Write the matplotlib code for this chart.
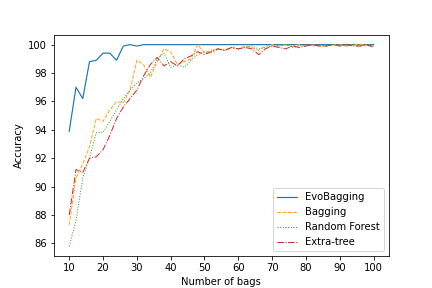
import matplotlib
matplotlib.use("Agg")
import matplotlib.pyplot as plt
import numpy as np

bags = np.arange(10, 101, 2)

evobagging = [93.9, 97.0, 96.2, 98.8, 98.9, 99.4, 99.4, 98.9, 99.9, 100.0,
              99.9, 100.0] + [100.0] * 34

bagging = [87.3, 90.6, 91.6, 92.8, 94.8, 94.6, 95.4, 96.0, 95.9, 96.8,
           98.9, 98.6, 97.7, 98.8, 99.7, 99.5, 98.6, 98.8, 99.0, 100.0,
           99.4, 99.6, 99.7, 99.6, 99.8, 99.7, 99.9, 99.8, 99.6, 99.9,
           100.0, 99.9, 100.0, 99.9, 100.0, 99.9, 100.0, 99.9, 99.9, 100.0,
           100.0, 99.9, 100.0, 100.0, 100.0, 99.9]

random_forest = [85.8, 87.6, 90.6, 92.0, 93.8, 93.8, 94.6, 95.4, 96.2, 96.8,
                 97.3, 97.6, 98.0, 99.0, 99.4, 98.4, 98.6, 98.4, 98.9, 99.3,
                 99.5, 99.4, 99.7, 99.6, 99.8, 99.7, 99.8, 99.9, 99.7, 99.8,
                 99.9, 99.9, 100.0, 99.8, 99.9, 100.0, 99.9, 100.0, 99.9, 100.0,
                 100.0, 99.9, 100.0, 99.9, 100.0, 99.9]

extra_tree = [88.0, 91.2, 91.0, 92.0, 92.1, 92.6, 93.6, 94.8, 95.6, 96.2,
              96.8, 97.8, 98.6, 99.1, 98.5, 98.8, 98.5, 99.0, 99.2, 99.5,
              99.3, 99.5, 99.7, 99.6, 99.8, 99.7, 99.8, 99.7, 99.3, 99.7,
              99.9, 99.8, 99.7, 99.9, 99.8, 99.9, 100.0, 99.9, 99.9, 100.0,
              99.9, 100.0, 99.9, 99.9, 100.0, 99.8]

fig, ax = plt.subplots(figsize=(6, 4), dpi=72)
ax.plot(bags, evobagging, color="#1f77b4", ls="-", lw=1.2, label="EvoBagging")
ax.plot(bags, bagging, color="#ffa514", ls="--", lw=1.0, label="Bagging")
ax.plot(bags, random_forest, color="#2ca02c", ls=":", lw=1.0, label="Random Forest")
ax.plot(bags, extra_tree, color="#d62728", ls="-.", lw=1.0, label="Extra-tree")

ax.set_xticks(np.arange(10, 101, 10))
ax.set_xlabel("Number of bags")
ax.set_ylabel("Accuracy")
ax.legend(loc="lower right")
fig.savefig("out.png")
